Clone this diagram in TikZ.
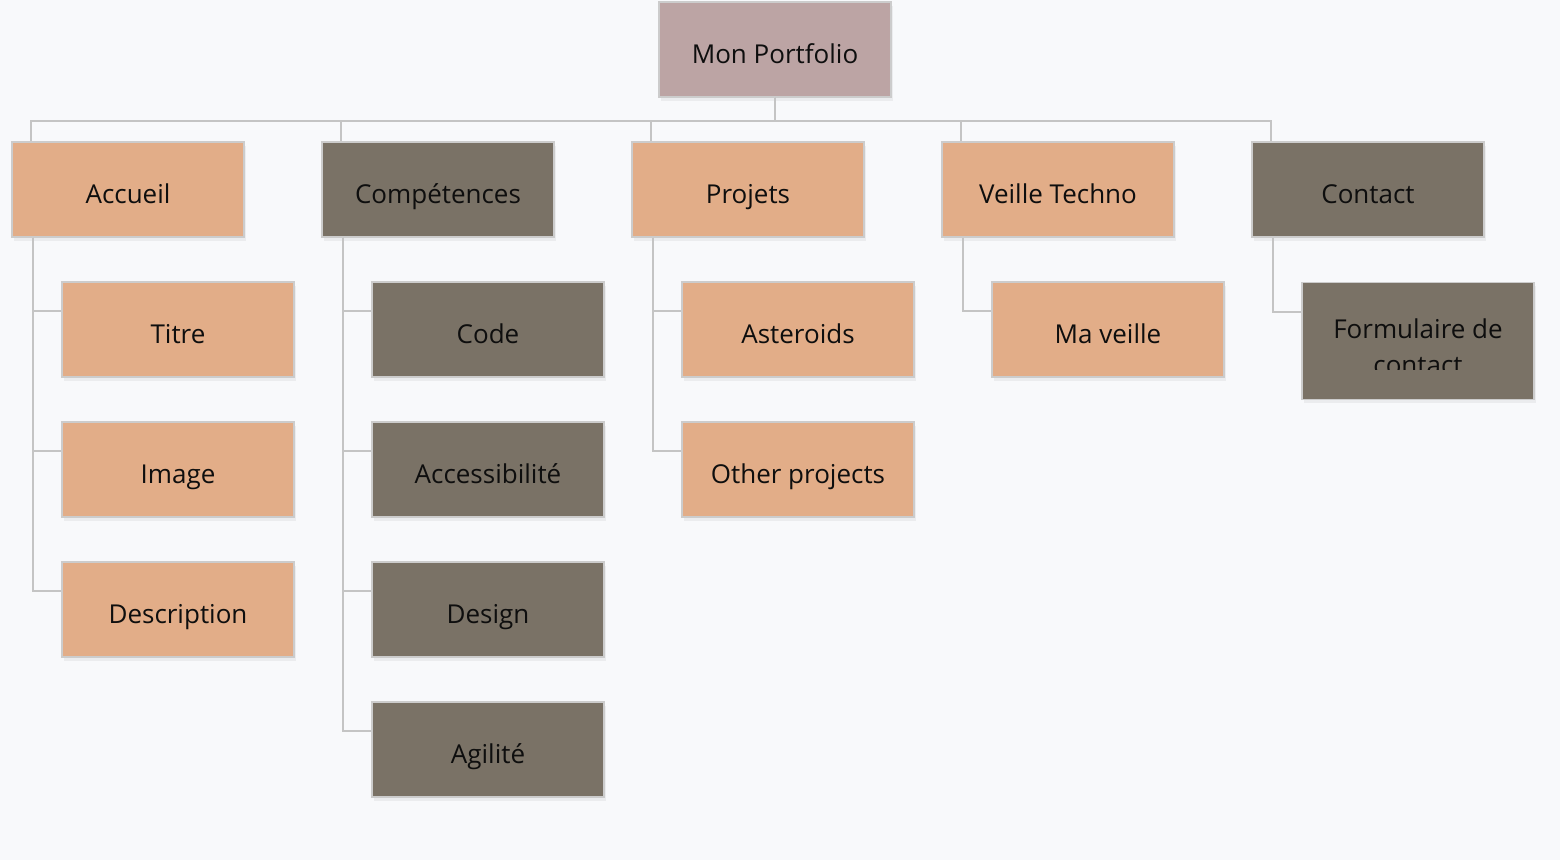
\documentclass[tikz,border=0pt]{standalone}
\usepackage{fontspec}
\setmainfont{Open Sans}
\usetikzlibrary{shadows}

\definecolor{bgcol}{HTML}{F8F9FB}
\definecolor{peach}{HTML}{E2AD88}
\definecolor{taupe}{HTML}{7A7266}
\definecolor{rose}{HTML}{BCA4A4}
\definecolor{edgecol}{HTML}{CCCCCC}
\definecolor{linkcol}{HTML}{C4C4C4}
\definecolor{inkcol}{HTML}{0E0E0E}

\begin{document}
\begin{tikzpicture}[
    x=0.02cm, y=-0.02cm,
    every node/.style={text=inkcol, font=\fontsize{14.8}{20.4}\selectfont},
    box/.style={draw=edgecol, line width=1.1pt, minimum width=4.64cm, minimum height=1.9cm, inner sep=0pt,
        text height=16pt, text depth=0pt,
        drop shadow={opacity=0.10, shadow xshift=1pt, shadow yshift=-2pt}},
    peachbox/.style={box, fill=peach},
    taupebox/.style={box, fill=taupe},
    link/.style={draw=linkcol, line width=1.1pt}
]
% Manual bounding box
\fill[bgcol] (0,0) rectangle (1560,860);
\useasboundingbox (0,0) rectangle (1560,860);

% Top of the tree
\node[box, fill=rose] (root) at (775,49.5) {Mon Portfolio};

% Main sections
\node[peachbox] (acc) at (128,189.5) {Accueil};
\node[taupebox] (comp) at (438,189.5) {Compétences};
\node[peachbox] (proj) at (748,189.5) {Projets};
\node[peachbox] (veille) at (1058,189.5) {Veille Techno};
\node[taupebox] (contact) at (1368,189.5) {Contact};

% Sub pages
\node[peachbox] (titre) at (178,329.5) {Titre};
\node[peachbox] (image) at (178,469.5) {Image};
\node[peachbox] (desc) at (178,609.5) {Description};

\node[taupebox] (code) at (488,329.5) {Code};
\node[taupebox] (access) at (488,469.5) {Accessibilité};
\node[taupebox] (design) at (488,609.5) {Design};
\node[taupebox] (agile) at (488,749.5) {Agilité};

\node[peachbox] (aster) at (798,329.5) {Asteroids};
\node[peachbox] (other) at (798,469.5) {Other projects};

\node[peachbox] (maveille) at (1108,329.5) {Ma veille};

\node[taupebox, minimum height=2.34cm] (form) at (1418,341) {};
\begin{scope}
    \clip (form.north west) rectangle ([yshift=0.62cm]form.south east);
    \node[align=center] (formtext) at (1418,347) {Formulaire de\\contact};
\end{scope}

% Connections
\draw[link] (root.south) -- ++(0,23) -| ([xshift=0.4cm]acc.north west);
\draw[link] (root.south) -- ++(0,23) -| ([xshift=0.4cm]comp.north west);
\draw[link] (root.south) -- ++(0,23) -| ([xshift=0.4cm]proj.north west);
\draw[link] (root.south) -- ++(0,23) -| ([xshift=0.4cm]veille.north west);
\draw[link] (root.south) -- ++(0,23) -| ([xshift=0.4cm]contact.north west);

\draw[link] ([xshift=0.44cm]acc.south west) |- ([yshift=-0.6cm]titre.north west);
\draw[link] ([xshift=0.44cm]acc.south west) |- ([yshift=-0.6cm]image.north west);
\draw[link] ([xshift=0.44cm]acc.south west) |- ([yshift=-0.6cm]desc.north west);

\draw[link] ([xshift=0.44cm]comp.south west) |- ([yshift=-0.6cm]code.north west);
\draw[link] ([xshift=0.44cm]comp.south west) |- ([yshift=-0.6cm]access.north west);
\draw[link] ([xshift=0.44cm]comp.south west) |- ([yshift=-0.6cm]design.north west);
\draw[link] ([xshift=0.44cm]comp.south west) |- ([yshift=-0.6cm]agile.north west);

\draw[link] ([xshift=0.44cm]proj.south west) |- ([yshift=-0.6cm]aster.north west);
\draw[link] ([xshift=0.44cm]proj.south west) |- ([yshift=-0.6cm]other.north west);

\draw[link] ([xshift=0.44cm]veille.south west) |- ([yshift=-0.6cm]maveille.north west);

\draw[link] ([xshift=0.44cm]contact.south west) |- ([yshift=-0.6cm]form.north west);

\end{tikzpicture}
\end{document}
